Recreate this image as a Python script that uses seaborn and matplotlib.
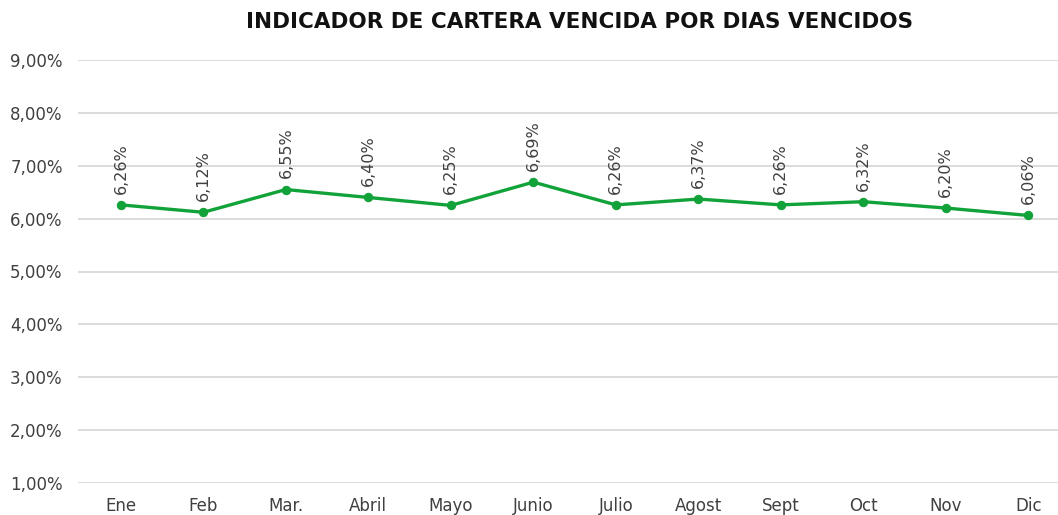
import matplotlib
matplotlib.use("Agg")
import matplotlib.pyplot as plt
from matplotlib.ticker import FuncFormatter
import pandas as pd
import seaborn as sns

meses = ["Ene", "Feb", "Mar.", "Abril", "Mayo", "Junio", "Julio",
         "Agost", "Sept", "Oct", "Nov", "Dic"]
indicador = [6.26, 6.12, 6.55, 6.40, 6.25, 6.69, 6.26, 6.37, 6.26, 6.32, 6.20, 6.06]
y_ticks = [1, 2, 3, 4, 5, 6, 7, 8, 9]

df = pd.DataFrame({"mes": meses, "valor": indicador})

sns.set_theme(style="white")
plt.rcParams["font.family"] = ["DejaVu Sans"]

verde = "#12a23a"
texto = "#404040"

fig = plt.figure(figsize=(10.58, 5.15), dpi=100)
ax = fig.add_axes([78 / 1058, 32 / 515, 980 / 1058, 423 / 515])

ax.set_yticks(y_ticks)
ax.yaxis.grid(True, color="#d9d9d9", linewidth=1.3)
ax.set_axisbelow(True)

sns.lineplot(data=df, x="mes", y="valor", ax=ax, color=verde, linewidth=2.4,
             marker="o", markersize=6, markeredgecolor=verde, sort=False)

for i, v in enumerate(indicador):
    ax.annotate(f"{v:.2f}%".replace(".", ","), (i, v), xytext=(0, 8),
                textcoords="offset points", rotation=90, ha="center", va="bottom",
                fontsize=11.5, color=texto)

ax.set_ylim(1, 9)
ax.set_xlim(-0.52, 11.36)
ax.yaxis.set_major_formatter(FuncFormatter(lambda v, p: f"{v:.2f}%".replace(".", ",")))
ax.tick_params(axis="y", length=0, pad=11, labelsize=12, labelcolor=texto)
ax.tick_params(axis="x", length=0, pad=10, labelsize=12, labelcolor=texto)
ax.set_xlabel("")
ax.set_ylabel("")
sns.despine(ax=ax, left=True, bottom=True)

fig.text(580 / 1058, 1 - 22 / 515, "INDICADOR DE CARTERA VENCIDA POR DIAS VENCIDOS",
         ha="center", va="center", fontsize=15.5, fontweight="heavy", color="#111111")

fig.savefig("out.png", dpi=100)
